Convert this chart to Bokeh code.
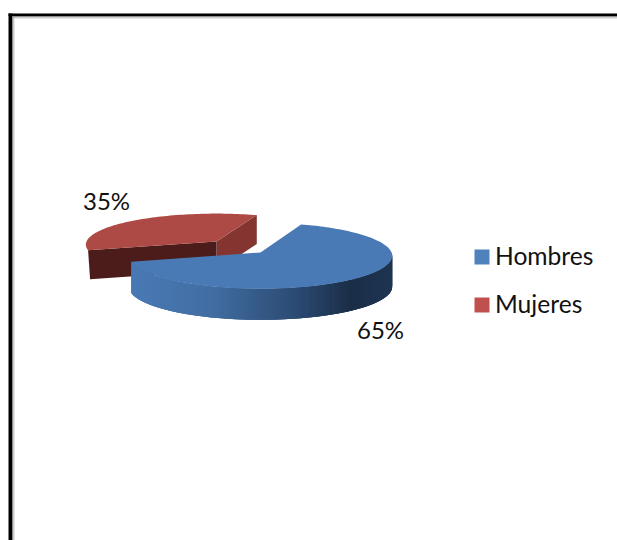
import numpy as np
from bokeh.embed import file_html
from bokeh.models import Range1d
from bokeh.plotting import figure
from bokeh.resources import INLINE
from bokeh.core.properties import value

# Survey share by sex
categories = ["Hombres", "Mujeres"]
shares = [65, 35]
labels = ["65%", "35%"]

W, H = 617, 540
FONT = value("Lato")
START_DEG = 70.0
DEPTH_H = 31
DEPTH_M = 29
PERSPECTIVE = 0.1

p = figure(width=W, height=H, output_backend="svg", toolbar_location=None,
           x_range=Range1d(0, W), y_range=Range1d(H, 0),
           min_border=0, outline_line_color=None,
           background_fill_color="white", border_fill_color="white")
p.axis.visible = False
p.grid.visible = False

# Page frame along the top and left: a black rule with a soft grey shadow inside it
for x0, x1, colour in [(8, 11.5, "#000000"), (11.5, 13, "#8f8f8f"), (13, 14, "#cfcfcf")]:
    p.quad(left=[x0], right=[x1], top=[13], bottom=[540], fill_color=colour, line_color=None)
for y0, y1, colour in [(13, 15.5, "#000000"), (15.5, 17, "#8f8f8f"), (17, 18, "#cfcfcf")]:
    p.quad(left=[max(8, 8 + (y0 - 13) * 1.4)], right=[617], top=[y0], bottom=[y1],
           fill_color=colour, line_color=None)


def rim(cx, cy, rx, ry, deg):
    # Tilted circle with the far side slightly foreshortened
    a = np.radians(deg)
    scale = 1 - PERSPECTIVE * np.sin(a)
    return cx + rx * np.cos(a) * scale, cy - ry * np.sin(a) * scale


def mix(c0, c1, t):
    a, b = np.array(c0, float), np.array(c1, float)
    r, g, b_ = a + (b - a) * t
    return "#%02x%02x%02x" % (int(r), int(g), int(b_))


# Slice sweeps come from the shares, running clockwise from the shared start angle
sweep_h = 360.0 * shares[0] / sum(shares)
sweep_m = 360.0 * shares[1] / sum(shares)
h_from, h_to = START_DEG - sweep_h, START_DEG
m_from, m_to = START_DEG, START_DEG + sweep_m

# Mujeres: pulled out toward the back left
mc = dict(cx=216, cy=241, rx=130, ry=31)
a_x, a_y = rim(**mc, deg=m_to)
b_x, b_y = rim(**mc, deg=m_from)
p.patch([mc["cx"], b_x, b_x, mc["cx"]],
        [mc["cy"], b_y, b_y + DEPTH_M, mc["cy"] + DEPTH_M],
        fill_color="#84352f", line_color=None)
p.patch([mc["cx"], a_x, a_x + 2, mc["cx"]],
        [mc["cy"], a_y, a_y + DEPTH_M, mc["cy"] + DEPTH_M],
        fill_color="#4c1c1a", line_color=None)
ang = np.linspace(m_from, m_to, 80)
xs, ys = rim(**mc, deg=ang)
p.patch([mc["cx"], *xs], [mc["cy"], *ys], fill_color="#ae4a45", line_color=None)

# Hombres: side wall shaded in narrow overlapping strips, bright left to dark right
hc = dict(cx=260, cy=252, rx=131, ry=33)
wall = np.linspace(h_from + 360, 360, 150)
stops_x = [0.0, 0.30, 0.62, 0.84, 1.0]
stops_c = [(74, 122, 181), (66, 110, 163), (44, 76, 116), (27, 46, 72), (31, 54, 82)]
wx, wy = rim(**hc, deg=wall)
left, right = wx.min(), wx.max()
strip_xs, strip_ys, strip_cols = [], [], []
for i in range(len(wall) - 1):
    j = min(i + 3, len(wall) - 1)
    t = (wx[i] - left) / (right - left)
    k = min(np.searchsorted(stops_x, t, side="right") - 1, len(stops_x) - 2)
    local = (t - stops_x[k]) / (stops_x[k + 1] - stops_x[k])
    strip_xs.append([wx[i], wx[j], wx[j], wx[i]])
    strip_ys.append([wy[i], wy[j], wy[j] + DEPTH_H, wy[i] + DEPTH_H])
    strip_cols.append(mix(stops_c[k], stops_c[k + 1], local))
p.patches(strip_xs, strip_ys, fill_color=strip_cols, line_color=None)

ang = np.linspace(h_from, h_to, 160)
xs, ys = rim(**hc, deg=ang)
p.patch([hc["cx"], *xs], [hc["cy"], *ys], fill_color="#4a7ab5", line_color=None)

# Percentage labels
p.text(x=[380, 106], y=[329, 200], text=labels, text_font=FONT, text_font_size="24px",
       text_color="#111111", text_align="center", text_baseline="middle")

# Legend
swatch_y = [256.5, 304.5]
p.rect(x=[481.5, 481.5], y=swatch_y, width=15, height=15,
       fill_color=["#4f81bd", "#c0504d"], line_color=None)
p.text(x=[494.5, 494.5], y=[254.5, 302.5], text=categories, text_font=FONT, text_font_size="24.6px",
       text_color="#111111", text_align="left", text_baseline="middle")

open("out.html", "w").write(file_html(p, INLINE))
